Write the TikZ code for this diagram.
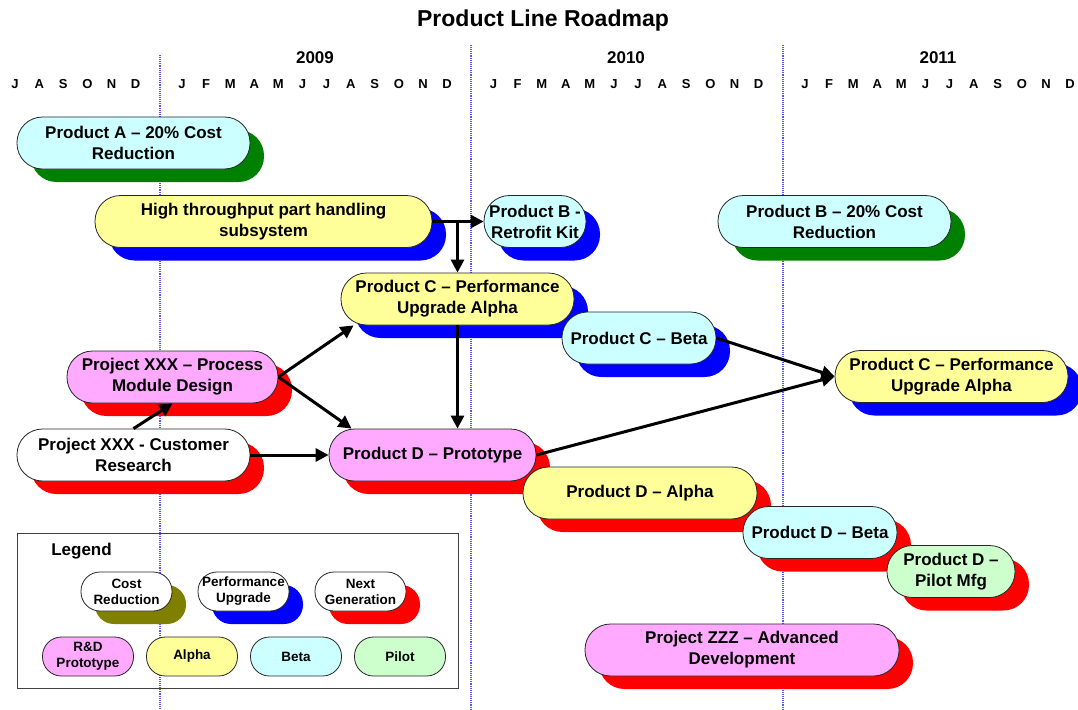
\documentclass[tikz,border=0pt]{standalone}
\usepackage{fontspec}
\setmainfont{Liberation Sans}
\usetikzlibrary{arrows.meta,shadows}
\definecolor{costgreen}{HTML}{008000}
\definecolor{perfblue}{HTML}{0000FF}
\definecolor{nextred}{HTML}{FF0000}
\definecolor{legolive}{HTML}{808000}
\definecolor{rndpink}{HTML}{FFAAFF}
\definecolor{alphayellow}{HTML}{FFFF99}
\definecolor{betacyan}{HTML}{CCFFFF}
\definecolor{pilotgreen}{HTML}{CCFFCC}
\definecolor{gridblue}{HTML}{5555FF}
\begin{document}
\begin{tikzpicture}[x=1pt,y=-1pt,
every node/.style={font=\bfseries},
pill/.style={draw=black!85, line width=0.8pt, rounded corners=25.5pt,
  minimum height=52pt, inner sep=0pt, align=center,
  font=\fontsize{17}{21}\selectfont\bfseries},
small pill/.style={pill, rounded corners=19pt, minimum height=39pt,
  minimum width=91pt, font=\fontsize{13.5}{16}\selectfont\bfseries},
shade/.style={drop shadow={shadow xshift=14pt, shadow yshift=-13pt,
  fill=#1, opacity=1}},
cost/.style={shade=costgreen},
perf/.style={shade=perfblue},
nextgen/.style={shade=nextred},
rnd/.style={fill=rndpink},
stagealpha/.style={fill=alphayellow},
stagebeta/.style={fill=betacyan},
stagepilot/.style={fill=pilotgreen},
arr/.style={line width=3pt, -{Triangle[length=13pt,width=13pt]}},
yearline/.style={gridblue, densely dotted, line width=1.1pt}]
\useasboundingbox (0,0) rectangle (1078,709);

% title and time axis
\node (title) at (543,21) {\fontsize{23}{27}\selectfont Product Line Roadmap};
\foreach \x/\yr in {315/2009, 626/2010, 938/2011}
  \node (y\yr) at (\x,58) {\fontsize{17}{20}\selectfont \yr};
\foreach \base/\yr in {182/2009, 493.5/2010, 805/2011}
  \foreach \m [count=\i from 0] in {J,F,M,A,M,J,J,A,S,O,N,D}
    \node (m\yr-\i) at (\base+\i*24.1,84) {\fontsize{13}{15}\selectfont \m};
\foreach \m [count=\i from 6] in {J,A,S,O,N,D}
  \node (m2008-\i) at (-129.5+\i*24.1,84) {\fontsize{13}{15}\selectfont \m};
\foreach \x/\top in {160/55, 471/45, 783/45}
  \draw[yearline] (\x,\top) -- (\x,709);

% roadmap items
\node[pill, cost, stagebeta, minimum width=233pt] (pa) at (133.5,143) {Product A – 20\% Cost\\Reduction};
\node[pill, perf, stagealpha, minimum width=337pt] (hts) at (263.5,221.5) {High throughput part handling\\subsystem};
\node[pill, perf, stagebeta, minimum width=102pt] (prb) at (535,221.5) {Product B -\\Retrofit Kit};
\node[pill, cost, stagebeta, minimum width=233pt] (pbc) at (834.5,221.5) {Product B – 20\% Cost\\Reduction};
\node[pill, perf, stagealpha, minimum width=233pt] (pca) at (457.5,299) {Product C – Performance\\Upgrade Alpha};
\node[pill, perf, stagebeta, minimum width=154pt] (pcb) at (639,338) {Product C – Beta};
\node[pill, perf, stagealpha, minimum width=233pt] (pca2) at (951.5,376.5) {Product C – Performance\\Upgrade Alpha};
\node[pill, nextgen, rnd, minimum width=211pt] (pxm) at (172.5,377) {Project XXX – Process\\Module Design};
\node[pill, nextgen, fill=white, minimum width=233pt] (pxc) at (133.5,455) {Project XXX - Customer\\Research};
\node[pill, nextgen, rnd, minimum width=207pt] (pdp) at (432.5,455) {Product D – Prototype};
\node[pill, nextgen, stagealpha, minimum width=234pt] (pdal) at (640,493) {Product D – Alpha};
\node[pill, nextgen, stagebeta, minimum width=154pt] (pdb) at (820,532.5) {Product D – Beta};
\node[pill, nextgen, stagepilot, minimum width=128pt] (pdpm) at (951,571.5) {Product D –\\Pilot Mfg};
\node[pill, nextgen, rnd, minimum width=314pt] (pzz) at (742,650) {Project ZZZ – Advanced\\Development};

% dependencies
\draw[arr] (hts.east) -- (prb.west);
\draw[arr] (hts.east -| pca.north) -- (pca.north);
\draw[arr] (pxc.north) -- (pxm.south);
\draw[arr] (pxm.east) -- ([xshift=13pt]pca.south west);
\draw[arr] (pxm.east) -- ([xshift=23pt]pdp.north west);
\draw[arr] (pxc.east) -- (pdp.west);
\draw[arr] (pca.south) -- (pca.south |- pdp.north);
\draw[arr] (pcb.east) -- (pca2.west);
\draw[arr] (pdp.east) -- (pca2.west);

% legend
\draw[black!75, line width=1pt] (17,533) rectangle (458,688);
\node (leg) at (81.5,551) {\fontsize{17}{20}\selectfont Legend};
\node[small pill, shade=legolive, fill=white] (lcost) at (126.5,591.5) {Cost\\Reduction};
\node[small pill, perf, fill=white] (lperf) at (243.5,591.5) {Performance\\Upgrade};
\node[small pill, nextgen, fill=white] (lnext) at (360.5,591.5) {Next\\Generation};
\node[small pill, rnd] (lrnd) at (88,656.5) {R\&D\\Prototype};
\node[small pill, stagealpha] (lalpha) at (192,656.5) {Alpha};
\node[small pill, stagebeta] (lbeta) at (296,656.5) {Beta};
\node[small pill, stagepilot] (lpilot) at (400,656.5) {Pilot};
\end{tikzpicture}
\end{document}
